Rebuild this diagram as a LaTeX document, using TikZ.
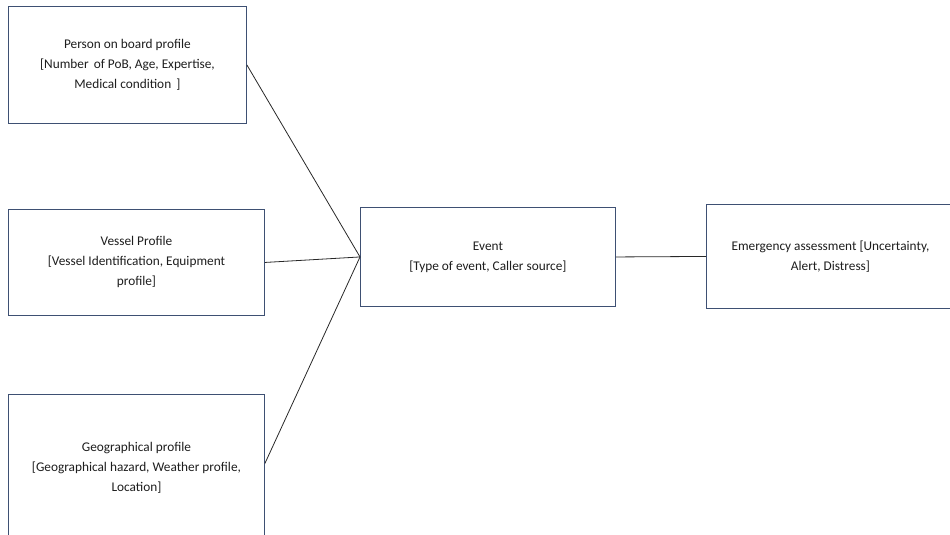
\documentclass[tikz,border=0pt]{standalone}
\usepackage{fontspec}
\setmainfont{Carlito}
\usetikzlibrary{calc}
\definecolor{boxline}{RGB}{62,80,115}
\definecolor{linkline}{RGB}{40,40,40}
\definecolor{cardtext}{RGB}{30,30,30}
\begin{document}
\begin{tikzpicture}[x=1pt,y=-1pt,
  card/.style={draw=boxline, line width=0.9pt, fill=white, align=center,
    text=cardtext, font=\fontsize{13.3}{20}\selectfont, inner sep=0pt,
    anchor=north west},
  link/.style={draw=linkline, line width=0.8pt}]
  \path[use as bounding box] (0,0) rectangle (950,535);
  \clip (0,0) rectangle (950,535);

  % input profiles
  \node[card, minimum width=238pt, minimum height=117pt] (pob) at (8,6)
    {Person on board profile\\{[}Number\, of PoB, Age, Expertise,\\Medical condition\, {]}};
  \node[card, minimum width=256pt, minimum height=106pt] (vessel) at (8,209)
    {Vessel Profile\\{[}Vessel Identification, Equipment\\profile{]}};
  \node[card, minimum width=256pt, minimum height=146pt] (geo) at (8,394)
    {Geographical profile\\{[}Geographical hazard, Weather profile,\\Location{]}};

  % event and assessment
  \node[card, minimum width=255pt, minimum height=99pt] (event) at (360,207)
    {Event\\{[}Type of event, Caller source{]}};
  \node[card, minimum width=248pt, minimum height=104pt] (assess) at (706,204)
    {Emergency assessment {[}Uncertainty,\\Alert, Distress{]}};

  % connectors
  \draw[link] (pob.east) -- (event.west);
  \draw[link] (vessel.east) -- (event.west);
  \draw[link] ($(geo.east)+(0,-4)$) -- (event.west);
  \draw[link] (event.east) -- (assess.west);
\end{tikzpicture}
\end{document}
